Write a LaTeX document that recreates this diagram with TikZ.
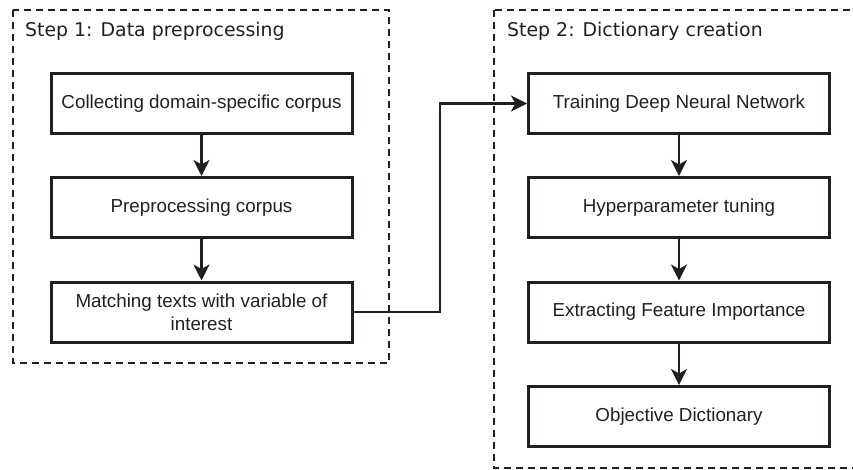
\documentclass[tikz,border=0pt]{standalone}
\usepackage{fontspec}
\setmainfont{Liberation Sans}
\newfontfamily\titlefont{DejaVu Sans}
\usetikzlibrary{arrows.meta}
\definecolor{ink}{HTML}{231F20}
\tikzset{
  stepbox/.style={draw=ink, line width=3pt, minimum width=301pt, minimum height=60pt,
    inner sep=0pt, align=center, text=ink, font=\fontsize{18.8}{23}\selectfont},
  groupbox/.style={draw=ink, line width=2.1pt, dash pattern=on 7pt off 5pt},
  grouptitle/.style={anchor=base west, inner sep=0pt, text=ink, font=\titlefont\fontsize{18.9}{23}\selectfont},
  arr/.style={draw=ink, line width=2.4pt, -{Stealth[length=16pt, width=16pt, inset=4.5pt]}}
}
\begin{document}
\begin{tikzpicture}[x=1pt, y=-1pt]
\useasboundingbox (0,0) rectangle (853,470);
\begin{scope}
\clip (0,0) rectangle (853,470);
\draw[groupbox] (13,10) rectangle (389,363);
\draw[groupbox] (494,10) rectangle (880,468);
\end{scope}
\node[grouptitle] (g1) at (25,37) {Step 1: Data preprocessing};
\node[grouptitle] (g2) at (507,37) {Step 2: Dictionary creation};
\node[stepbox] (a1) at (201.5,103.5) {Collecting domain-specific corpus};
\node[stepbox] (a2) at (201.5,207.5) {Preprocessing corpus};
\node[stepbox] (a3) at (201.5,312) {Matching texts with variable of\\interest};
\node[stepbox] (b1) at (679,103.5) {Training Deep Neural Network};
\node[stepbox] (b2) at (679,207.5) {Hyperparameter tuning};
\node[stepbox] (b3) at (679,312) {Extracting Feature Importance};
\node[stepbox] (b4) at (679,416.5) {Objective Dictionary};
\coordinate (m) at (440,312);
\draw[arr] (a1) -- (a2);
\draw[arr] (a2) -- (a3);
\draw[arr] (b1) -- (b2);
\draw[arr] (b2) -- (b3);
\draw[arr] (b3) -- (b4);
\draw[arr] (a3.east) -- (m) |- (b1.west);
\end{tikzpicture}
\end{document}
